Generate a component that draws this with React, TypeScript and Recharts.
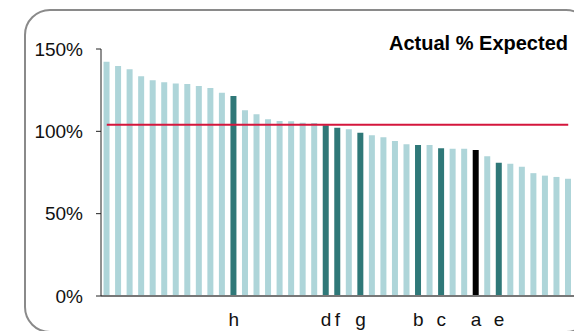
import { Bar, BarChart, Cell, ReferenceLine, XAxis, YAxis } from "recharts";

const FONT = "'Liberation Sans', Arial, sans-serif";

// 41 units, sorted by actual % of expected
const values = [
  142.2, 139.7, 137.7, 133.4, 131.0, 129.8, 129.0, 128.8, 127.6, 126.3,
  123.5, 121.5, 112.8, 110.4, 107.4, 106.3, 106.1, 105.2, 105.1, 103.7,
  102.2, 101.3, 99.2, 97.6, 96.4, 94.1, 92.1, 91.7, 91.7, 89.8,
  89.4, 89.4, 88.7, 84.8, 80.9, 80.3, 78.5, 74.6, 73.1, 72.3, 71.2,
];

const labels = [
  "", "", "", "", "", "", "", "", "", "",
  "", "h", "", "", "", "", "", "", "", "d",
  "f", "", "g", "", "", "", "", "b", "", "c",
  "", "", "a", "", "e", "", "", "", "", "", "",
];

const yTicks = [0, 50, 100, 150];
const target = 104;
const title = "Actual % Expected";

const LIGHT = "#aed5d9";
const DARK = "#2f7878";
const FOCUS = "#000000";

const data = values.map((v, i) => ({ id: i, label: labels[i], value: v }));

function barColor(label: string) {
  if (label === "a") return FOCUS;
  if (label) return DARK;
  return LIGHT;
}

export default function App() {
  return (
    <div
      style={{
        position: "absolute",
        left: 0,
        top: 0,
        width: 574,
        height: 331,
        overflow: "hidden",
        background: "#fff",
        fontFamily: FONT,
      }}
    >
      {/* rounded panel frame */}
      <div
        style={{
          position: "absolute",
          left: 24,
          top: 9,
          width: 568,
          height: 324,
          border: "2.5px solid #8a8a8a",
          borderRadius: 26,
          boxSizing: "border-box",
        }}
      />
      <BarChart
        width={574}
        height={331}
        data={data}
        margin={{ top: 49, right: 0, bottom: 0, left: 0 }}
        barCategoryGap="22%"
        style={{ position: "absolute", left: 0, top: 0 }}
      >
        <XAxis
          dataKey="id"
          type="category"
          interval={0}
          height={35}
          tickSize={0}
          tickMargin={17}
          tickFormatter={(i: number) => labels[i]}
          tick={{ fontSize: 19, fill: "#111", fontFamily: FONT }}
          axisLine={{ stroke: "#777", strokeWidth: 2 }}
          tickLine={false}
        />
        <YAxis
          domain={[0, 150]}
          ticks={yTicks}
          width={101}
          tickSize={5}
          tickMargin={13}
          tickFormatter={(v: number) => `${v}%`}
          tick={{ fontSize: 19, fill: "#111", fontFamily: FONT }}
          axisLine={{ stroke: "#222" }}
          tickLine={{ stroke: "#222" }}
        />
        <Bar dataKey="value" isAnimationActive={false}>
          {data.map((d, i) => (
            <Cell key={i} fill={barColor(d.label)} />
          ))}
        </Bar>
        <ReferenceLine
          segment={[
            { x: 0, y: target },
            { x: values.length - 1, y: target },
          ]}
          stroke="#d4163c"
          strokeWidth={2}
        />
      </BarChart>
      <div
        style={{
          position: "absolute",
          right: 6,
          top: 33,
          fontSize: 20,
          lineHeight: "20px",
          fontWeight: "bold",
          color: "#000",
          whiteSpace: "nowrap",
        }}
      >
        {title}
      </div>
    </div>
  );
}
